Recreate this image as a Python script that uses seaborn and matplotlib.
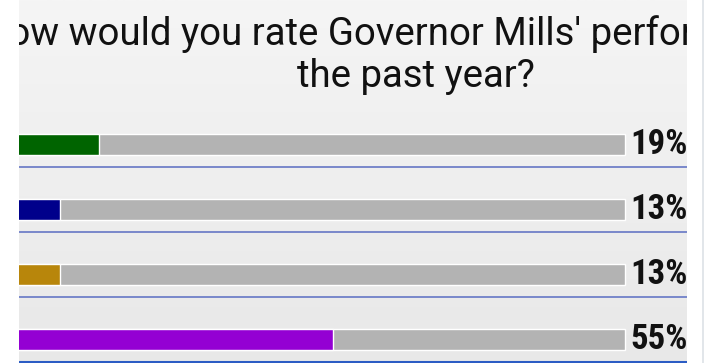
import numpy as np
import pandas as pd
import matplotlib
matplotlib.use("Agg")
import matplotlib.pyplot as plt
from matplotlib.patches import Rectangle
from matplotlib import font_manager as fm
import seaborn as sns

# Poll results
categories = ["Excellent", "Good", "Fair", "Poor"]
shares = [19, 13, 13, 55]
bar_colors = ["#006400", "#00008b", "#b8860b", "#9400d3"]
value_labels = ["19%", "13%", "13%", "55%"]
full_scale = 100
title_lines = ["How would you rate Governor Mills' performance in", "the past year?"]

sns.set_theme(style="white")
plt.rcParams["font.family"] = ["Roboto", "DejaVu Sans"]


def condensed_bold():
    """Pick a narrow bold face for the percentage labels if one is installed."""
    def is_bold(f):
        w = f.weight
        if isinstance(w, str):
            return w in ("bold", "heavy", "black", "demibold", "semibold")
        return w >= 600

    def is_narrow(f):
        return (f.stretch in ("condensed", "semi-condensed", "extra-condensed",
                              "ultra-condensed")
                or "Narrow" in f.name or "Condensed" in f.name)

    pref = ["Roboto Condensed", "Liberation Sans Narrow", "Noto Sans",
            "Open Sans", "DejaVu Sans"]
    found = [f for f in fm.fontManager.ttflist if is_bold(f) and is_narrow(f)]
    for name in pref:
        for f in found:
            if f.name.startswith(name) and f.style == "normal":
                return fm.FontProperties(fname=f.fname), True
    if found:
        return fm.FontProperties(fname=found[0].fname), True
    return fm.FontProperties(family="DejaVu Sans", weight="bold"), False


label_font, narrow = condensed_bold()
label_font.set_size(25 if narrow else 19)

W, H, DPI = 714, 363, 100
fig = plt.figure(figsize=(W / DPI, H / DPI), dpi=DPI)
fig.patch.set_facecolor("white")

# panel area in pixels
px_left, px_right = 19, 687
ax = fig.add_axes([px_left / W, 0, (px_right - px_left) / W, 1])

# soft vertical gradient behind the panel
grad = np.linspace(0, 1, 256).reshape(-1, 1)
ax.imshow(grad, extent=[0, 1, 0, 1], transform=ax.transAxes, aspect="auto",
          cmap=matplotlib.colors.LinearSegmentedColormap.from_list(
              "bg", ["#e8e8e8", "#f5f5f5"]), origin="lower", zorder=0)

df = pd.DataFrame({"category": categories, "share": shares,
                   "total": [full_scale] * len(categories)})

sns.barplot(data=df, y="category", x="total", color="#b3b3b3", width=0.32,
            orient="h", ax=ax, zorder=2, saturation=1)
sns.barplot(data=df, y="category", x="share", hue="category",
            palette=bar_colors, width=0.32, orient="h", ax=ax, zorder=3,
            saturation=1, legend=False)

# scale: 0% sits left of the panel edge, 100% near the right edge
px_per_unit = 6.495
zero_px = -24.6
ax.set_xlim((px_left - zero_px) / px_per_unit, (px_right - zero_px) / px_per_unit)
row_px = 65.0
first_px = 144.5
ax.set_ylim((H - first_px) / row_px, -first_px / row_px)

for i in range(len(categories) - 1):
    ax.axhline(i + 0.346, color="#7080c8", lw=1.3, zorder=4)
ax.axhline(len(categories) - 1 + 0.346, color="#2b5cc4", lw=2.2, zorder=4)

for i, lab in enumerate(value_labels):
    ax.annotate(lab, xy=(full_scale, i), xytext=(4.0, -7.0),
                textcoords="offset points", ha="left", va="baseline",
                fontproperties=label_font, color="#111111",
                annotation_clip=False, zorder=5)

ax.set_axis_off()

# title, centred over the panel
for text, base_px in zip(title_lines, [45, 87]):
    fig.text(416 / W, 1 - base_px / H, text, ha="center", va="baseline",
             fontsize=27.6, color="#111111", zorder=3)

# page margins around the panel
fig.patches.append(Rectangle((0, 0), px_left / W, 1, transform=fig.transFigure,
                             facecolor="white", edgecolor="none", zorder=10))
fig.patches.append(Rectangle((px_right / W, 0), 1 - px_right / W, 1,
                             transform=fig.transFigure, facecolor="white",
                             edgecolor="none", zorder=10))
fig.patches.append(Rectangle((702 / W, 0), 1.5 / W, 1, transform=fig.transFigure,
                             facecolor="#e2e6ea", edgecolor="none", zorder=11))

fig.savefig("out.png", dpi=DPI)
